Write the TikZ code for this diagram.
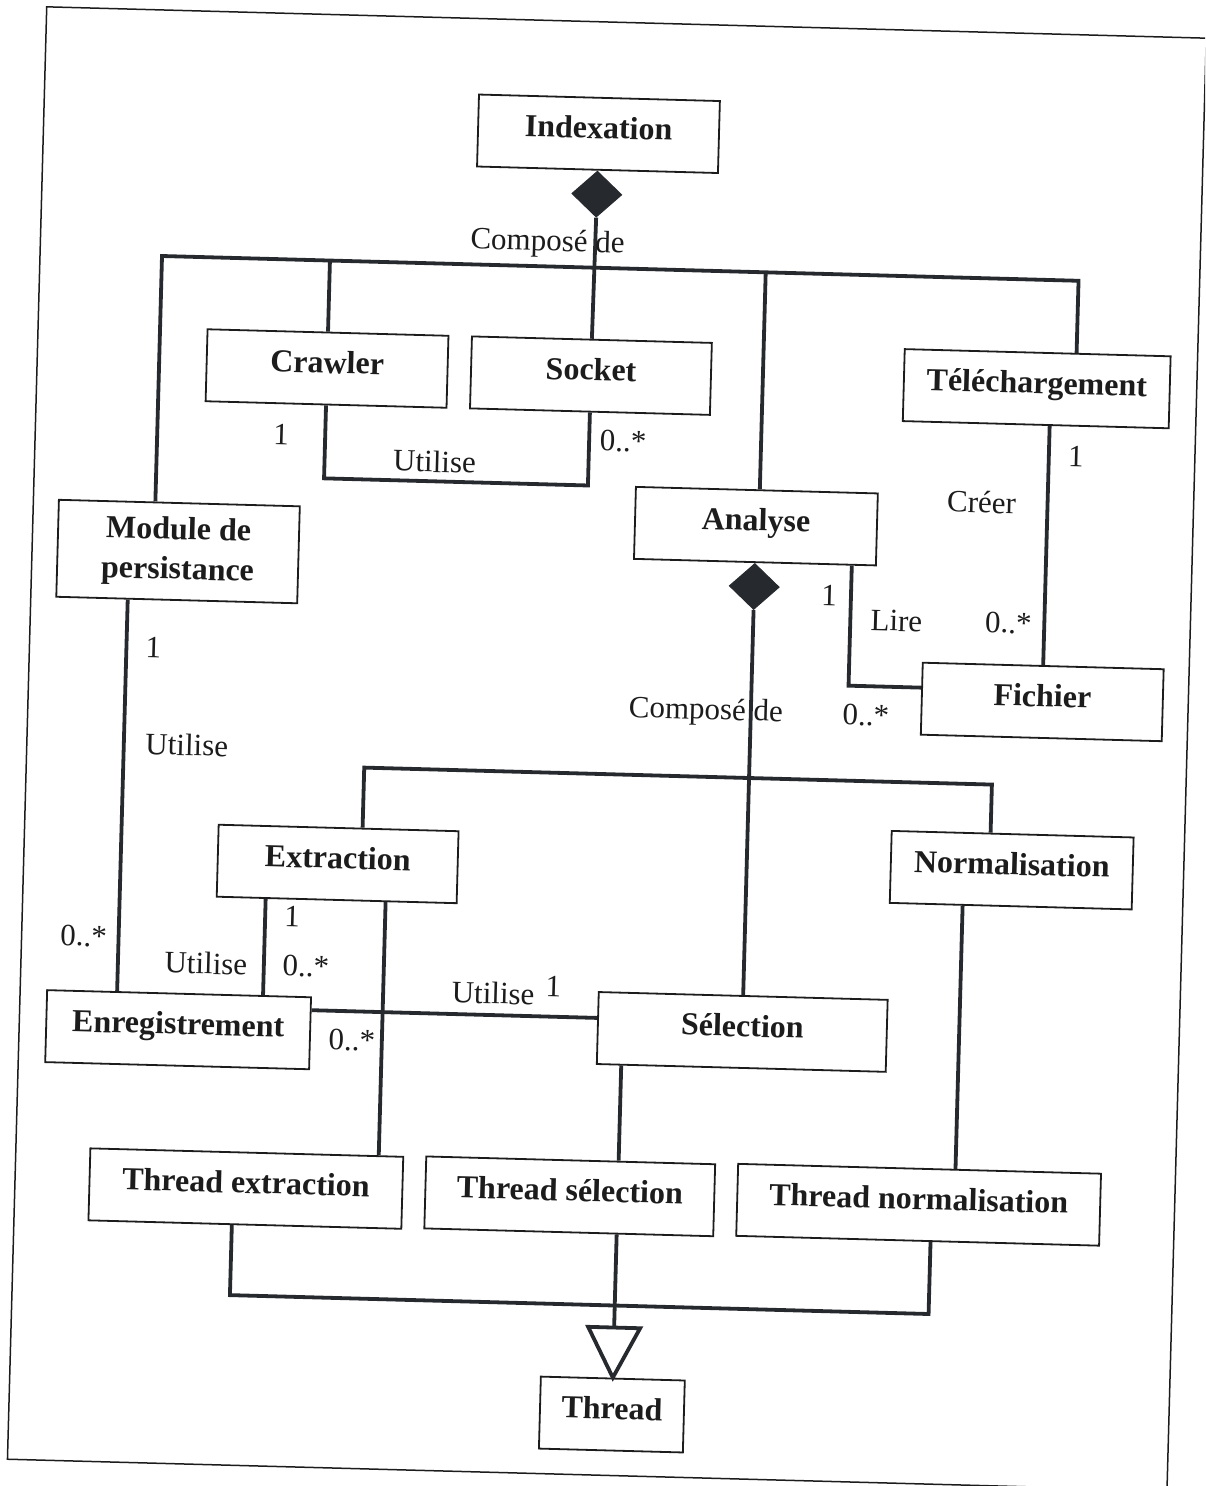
\documentclass[tikz,border=0pt]{standalone}
\usepackage{fontspec}
\setmainfont{Liberation Serif}
\usetikzlibrary{shapes.geometric}

\definecolor{ink}{HTML}{1C1C1C}
\definecolor{wire}{HTML}{262A2E}

\tikzset{
  cls/.style={draw=ink, line width=1.8pt, minimum height=72pt, inner sep=0pt,
    align=center, text=ink, font=\bfseries\fontsize{32}{40}\selectfont,
    text height=0.95em, text depth=0.02em},
  conn/.style={draw=wire, line width=3.8pt},
  lbl/.style={inner sep=0pt, text=ink, font=\fontsize{31}{34}\selectfont},
  compo/.style={diamond, draw=wire, fill=wire, line width=1pt, inner sep=0pt,
    minimum width=50pt, minimum height=46pt},
}

\begin{document}
\begin{tikzpicture}[x=1pt, y=-1pt]
\path[use as bounding box] (0,0) rectangle (1205,1486);
\clip (0,0) rectangle (1205,1486);

\begin{scope}[rotate around={-1.55:(600,743)}, transform shape]
  % page frame
  \draw[ink, line width=1.5pt] (27,22) rectangle (1187,1475);

  % classes
  \node[cls, minimum width=241pt] (idx)     at (582,134)  {Indexation};
  \node[cls, minimum width=241pt] (crawler) at (317,376)  {Crawler};
  \node[cls, minimum width=240pt] (socket)  at (581,376)  {Socket};
  \node[cls, minimum width=266pt] (tele)    at (1027,377) {Téléchargement};
  \node[cls, minimum width=241pt, minimum height=97pt, text height=, text depth=] (module) at (173,563) {Module de\\persistance};
  \node[cls, minimum width=242pt] (analyse) at (750,522)  {Analyse};
  \node[cls, minimum width=241pt] (fichier) at (1041,690) {Fichier};
  \node[cls, minimum width=240pt] (extraction) at (341,871) {Extraction};
  \node[cls, minimum width=242pt] (norm)    at (1015,859) {Normalisation};
  \node[cls, minimum width=264pt] (enreg)   at (186,1041) {Enregistrement};
  \node[cls, minimum width=289pt] (select)  at (750,1028) {Sélection};
  \node[cls, minimum width=313pt] (thext)   at (258,1198) {Thread extraction};
  \node[cls, minimum width=289pt] (thsel)   at (582,1197) {Thread sélection};
  \node[cls, minimum width=363pt] (thnorm)  at (931,1196) {Thread normalisation};
  \node[cls, minimum width=144pt] (thread)  at (630,1414) {Thread};

  % composition: Indexation
  \node[compo, anchor=north] (dia1) at (idx.south) {};
  \coordinate (b1) at (582,268);
  \coordinate (m1) at ([xshift=-24pt]module.north);
  \coordinate (t1) at ([xshift=39pt]tele.north);
  \coordinate (a1) at ([xshift=3pt]analyse.north);
  \draw[conn] (dia1.south) -- (socket.north);
  \draw[conn] (m1) |- (b1) -| (t1);
  \draw[conn] (crawler.north) -- (crawler.north |- b1);
  \draw[conn] (a1 |- b1) -- (a1);
  \node[lbl] (comp1) at (534,245) {Composé de};

  % Crawler -- Socket
  \draw[conn] (crawler.south) -- ++(0,73) -| (socket.south);
  \node[lbl] (cs1) at (273,443) {1};
  \node[lbl] (cs2) at (427,466) {Utilise};
  \node[lbl] (cs3) at (615,441) {0..*};

  % Téléchargement -- Fichier
  \draw[conn] (tele.south -| fichier.north) -- (fichier.north);
  \node[lbl] (tf1) at (1068,444) {1};
  \node[lbl] (tf2) at (975,492) {Créer};
  \node[lbl] (tf3) at (1005,612) {0..*};

  % Analyse -- Fichier
  \coordinate (a2) at ([xshift=97pt]analyse.south);
  \draw[conn] (a2) |- ([yshift=11pt]fichier.west);
  \node[lbl] (af1) at (825,589) {1};
  \node[lbl] (af2) at (893,613) {Lire};
  \node[lbl] (af3) at (865,708) {0..*};

  % composition: Analyse
  \node[compo, anchor=north] (dia2) at (analyse.south) {};
  \coordinate (b2) at (750,774);
  \coordinate (e1) at ([xshift=24pt]extraction.north);
  \coordinate (n1) at ([xshift=-22pt]norm.north);
  \draw[conn] (dia2.south) -- (select.north);
  \draw[conn] (e1) |- (b2) -| (n1);
  \node[lbl] (comp2) at (705,709) {Composé de};

  % Module de persistance -- Enregistrement
  \coordinate (m2) at ([xshift=-49pt]module.south);
  \draw[conn] (m2) -- (m2 |- enreg.north);
  \node[lbl] (me1) at (151,660) {1};
  \node[lbl] (me2) at (187,756) {Utilise};
  \node[lbl] (me3) at (89,950) {0..*};

  % Extraction -- Enregistrement
  \coordinate (x2) at ([xshift=-71pt]extraction.south);
  \draw[conn] (x2) -- (x2 |- enreg.north);
  \node[lbl] (ee1) at (297,925) {1};
  \node[lbl] (ee2) at (212,974) {Utilise};
  \node[lbl] (ee3) at (312,974) {0..*};

  % Extraction -- Thread extraction
  \coordinate (x3) at ([xshift=49pt]extraction.south);
  \draw[conn] (x3) -- (x3 |- thext.north);

  % Enregistrement -- Sélection
  \coordinate (r1) at ([yshift=23pt]enreg.east);
  \draw[conn] (r1) -- (r1 -| select.west);
  \node[lbl] (es1) at (500,996) {Utilise};
  \node[lbl] (es2) at (560,988) {1};
  \node[lbl] (es3) at (360,1047) {0..*};

  % Normalisation -- Thread normalisation
  \coordinate (n2) at ([xshift=-48pt]norm.south);
  \draw[conn] (n2) -- (n2 |- thnorm.north);

  % Sélection -- Thread sélection
  \coordinate (s2) at ([xshift=-120pt]select.south);
  \draw[conn] (s2) -- (s2 |- thsel.north);

  % generalisation towards Thread
  \coordinate (tt) at ([yshift=50pt]thread.north);
  \coordinate (b3) at (630,1305);
  \coordinate (l1) at ([xshift=-13pt]thext.south);
  \coordinate (r2) at ([xshift=13pt]thnorm.south);
  \draw[conn] (thsel.south -| tt) -- (tt);
  \draw[conn] (l1) |- (b3) -| (r2);
  \draw[conn, fill=white, line join=miter] (thread.north) -- ([xshift=-26pt]tt) -- ([xshift=26pt]tt) -- cycle;
\end{scope}
\end{tikzpicture}
\end{document}
